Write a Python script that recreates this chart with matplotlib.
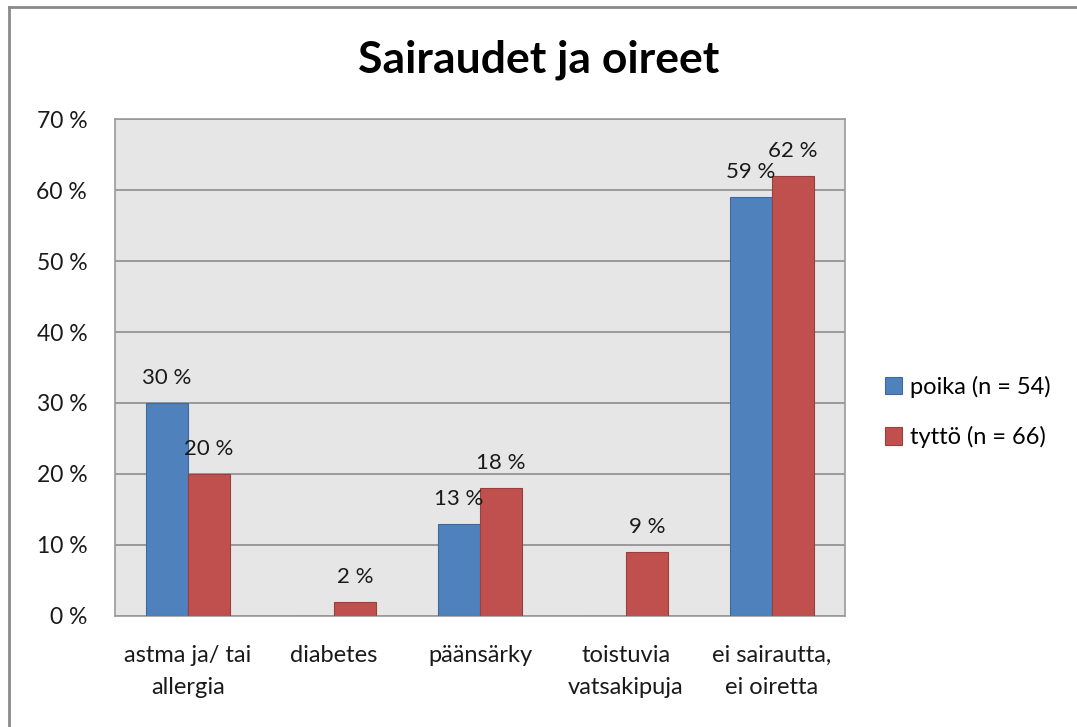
import numpy as np
import matplotlib
matplotlib.use("Agg")
import matplotlib.pyplot as plt
from matplotlib.lines import Line2D

plt.rcParams["font.family"] = ["Lato", "DejaVu Sans"]

categories = ["astma ja/ tai\nallergia", "diabetes", "päänsärky",
              "toistuvia\nvatsakipuja", "ei sairautta,\nei oiretta"]
poika = [30, 0, 13, 0, 59]
tytto = [20, 2, 18, 9, 62]
series_names = ["poika (n = 54)", "tyttö (n = 66)"]
yticks = [0, 10, 20, 30, 40, 50, 60, 70]

blue = "#4f81bd"
red = "#c0504d"

fig = plt.figure(figsize=(10.77, 7.27), dpi=100)
ax = fig.add_axes([0.1068, 0.1527, 0.6778, 0.6836])

# outer chart border (top and left visible in the reference)
fig.add_artist(Line2D([9 / 1077, 9 / 1077], [0, 1 - 7 / 727], transform=fig.transFigure,
                      color="#8a8a8a", lw=2))
fig.add_artist(Line2D([9 / 1077, 1], [1 - 7 / 727, 1 - 7 / 727], transform=fig.transFigure,
                      color="#8a8a8a", lw=2))

x = np.arange(len(categories))
w = 0.288
b1 = ax.bar(x - w / 2, poika, w, color=blue, edgecolor="#3f6a9e", lw=0.8,
            label=series_names[0], zorder=3)
b2 = ax.bar(x + w / 2, tytto, w, color=red, edgecolor="#98403d", lw=0.8,
            label=series_names[1], zorder=3)

for bars, vals in [(b1, poika), (b2, tytto)]:
    for rect, v in zip(bars, vals):
        if v == 0:
            continue
        ax.annotate(f"{v} %", (rect.get_x() + rect.get_width() / 2, v),
                    xytext=(0, 18), textcoords="offset points",
                    ha="center", va="center", fontsize=16, color="#1a1a1a", zorder=4)

ax.set_xlim(-0.5, len(categories) - 0.5)
ax.set_ylim(0, 70)
ax.set_yticks(yticks)
ax.set_yticklabels([f"{t} %" for t in yticks], fontsize=16.5, color="#1a1a1a")
ax.set_xticks(x)
ax.set_xticklabels(categories, fontsize=17, color="#1a1a1a", linespacing=1.65)
ax.tick_params(axis="x", length=0, pad=21)
ax.tick_params(axis="y", length=0, pad=20)
ax.set_facecolor("#e6e6e6")
ax.grid(axis="y", color="#8c8c8c", lw=1.2, zorder=0)
ax.set_axisbelow(True)
for s in ax.spines.values():
    s.set_color("#9a9a9a")
    s.set_linewidth(1.2)

fig.text(0.5, 1 - 60 / 727, "Sairaudet ja oireet", ha="center", va="center",
         fontsize=32, fontweight="bold", color="black")

fig.legend(handles=[b1, b2], loc="center left", bbox_to_anchor=(0.8215, 1 - 412 / 727),
           frameon=False, fontsize=17, handlelength=0.75, handleheight=0.75,
           handletextpad=0.3, labelspacing=1.2, borderaxespad=0, borderpad=0)

fig.savefig("out.png", dpi=100)
